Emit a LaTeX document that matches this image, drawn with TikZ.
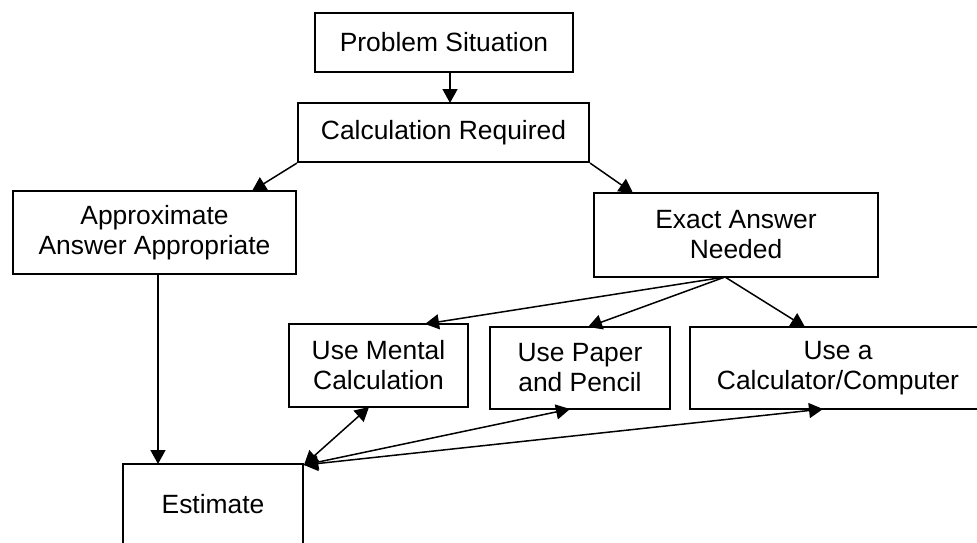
\documentclass[tikz,border=0pt]{standalone}
\usepackage{fontspec}
\setmainfont{Liberation Sans}
\usetikzlibrary{arrows.meta}
\begin{document}
\begin{tikzpicture}[x=1pt,y=-1pt,
  box/.style={draw=black, line width=2.2pt, fill=white, inner sep=0pt, align=center,
    font=\fontsize{26.4}{30}\selectfont},
  conn/.style={line width=1.5pt, -{Triangle[length=14pt,width=15pt]}},
  dconn/.style={line width=1.5pt, {Triangle[length=14pt,width=15pt]}-{Triangle[length=14pt,width=15pt]}}]
\useasboundingbox (0,0) rectangle (977,542);
\clip (0,0) rectangle (977,542);
\node[box, minimum width=258pt, minimum height=59pt] (prob) at (444,42.5) {Problem Situation};
\node[box, minimum width=291pt, minimum height=59pt] (calc) at (443.5,132.5) {Calculation Required};
\node[box, minimum width=283pt, minimum height=83pt] (approx) at (154.5,232.5) {Approximate\\Answer Appropriate};
\node[box, minimum width=284pt, minimum height=84pt] (exact) at (736,235) {Exact Answer\\Needed};
\node[box, minimum width=179pt, minimum height=83pt] (mental) at (378.5,365.5) {Use Mental\\Calculation};
\node[box, minimum width=180pt, minimum height=82pt] (paper) at (580,368) {Use Paper\\and Pencil};
\node[box, minimum width=296pt, minimum height=82pt] (calcu) at (838,368) {Use a\\Calculator/Computer};
\node[box, minimum width=180pt, minimum height=80pt] (est) at (213,504) {Estimate};
% connection points
\coordinate (probS) at (450,72);
\coordinate (calcN) at (450,103);
\coordinate (approxN) at (252,191);
\coordinate (exactN) at (633,193);
\coordinate (approxS) at (158,274);
\coordinate (estN) at (158,464);
\coordinate (exactS) at (725,277);
\coordinate (mentalN) at (425,324);
\coordinate (paperN) at (588,327);
\coordinate (calcuN) at (805,327);
\coordinate (mentalS) at (369,407);
\coordinate (paperS) at (570,409);
\coordinate (calcuS) at (823,409);
\coordinate (estC) at (304,465);
\draw[conn] (probS) -- (calcN);
\draw[conn] (calc.south west) -- (approxN);
\draw[conn] (calc.south east) -- (exactN);
\draw[conn] (approxS) -- (estN);
\draw[conn] (exactS) -- (mentalN);
\draw[conn] (exactS) -- (paperN);
\draw[conn] (exactS) -- (calcuN);
\draw[dconn] (estC) -- (mentalS);
\draw[dconn] (estC) -- (paperS);
\draw[dconn] (estC) -- (calcuS);
\end{tikzpicture}
\end{document}
